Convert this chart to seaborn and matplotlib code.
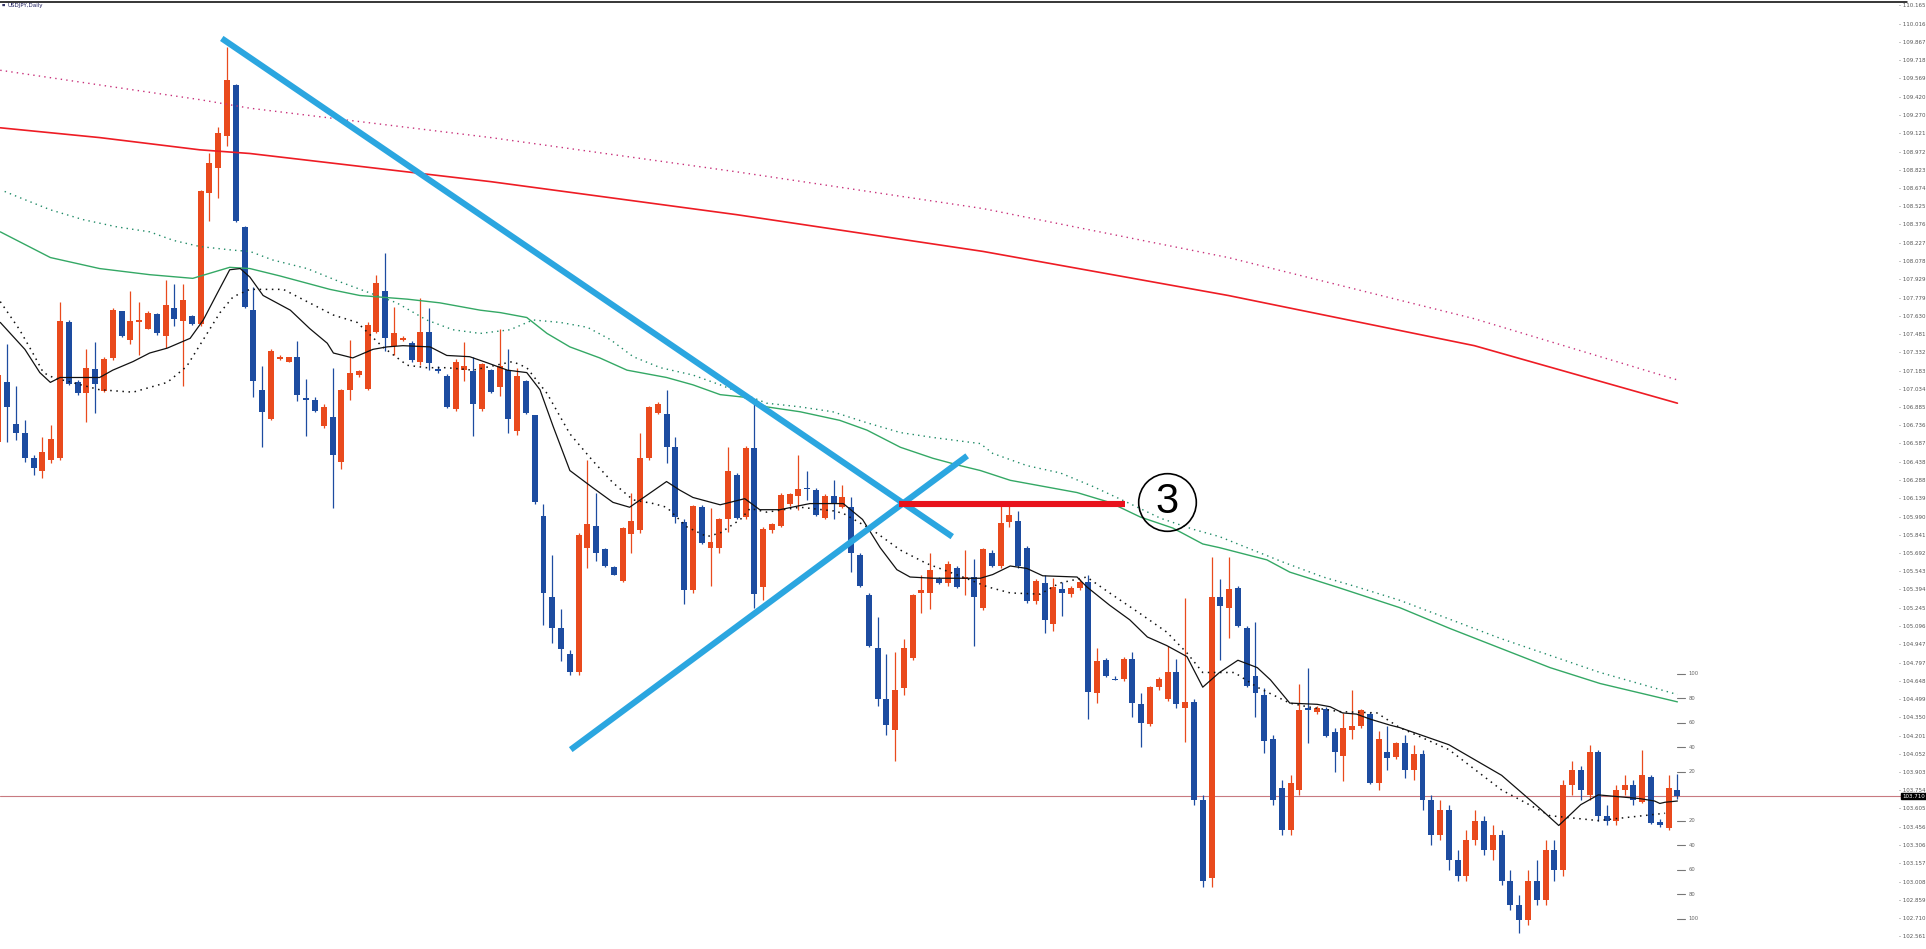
import numpy as np
import pandas as pd
import matplotlib
matplotlib.use('Agg')
import matplotlib.pyplot as plt
import seaborn as sns

# USDJPY 日线, 蜡烛序号 -1 .. 190
opens = [106.60, 107.09, 106.75, 106.68, 106.47, 106.37, 106.46, 106.47, 107.58, 107.09,
         107.00, 107.20, 107.02, 107.29, 107.67, 107.44, 107.58, 107.53, 107.65, 107.47,
         107.70, 107.59, 107.63, 107.57, 108.64, 108.84, 109.10, 109.52, 108.36, 107.68,
         107.03, 106.79, 107.28, 107.26, 107.30, 106.96, 106.95, 106.73, 106.81, 106.44,
         107.03, 107.15, 107.04, 107.50, 107.84, 107.39, 107.44, 107.41, 107.26, 107.50,
         107.20, 107.14, 106.87, 107.19, 107.18, 106.87, 107.19, 107.05, 107.19, 106.69,
         107.10, 106.82, 106.00, 105.34, 105.08, 104.87, 104.72, 105.74, 105.92, 105.73,
         105.58, 105.47, 105.85, 105.88, 106.47, 106.84, 106.83, 106.56, 105.95, 105.39,
         106.07, 105.74, 105.74, 105.97, 106.33, 105.99, 106.55, 105.42, 105.88, 105.92,
         106.10, 106.16, 106.23, 106.21, 105.98, 106.16, 106.07, 106.07, 105.68, 105.35,
         104.92, 104.50, 104.25, 104.59, 104.84, 105.37, 105.37, 105.48, 105.45, 105.57,
         105.48, 105.50, 105.25, 105.70, 105.59, 105.95, 105.96, 105.74, 105.30, 105.45,
         105.12, 105.40, 105.36, 105.41, 105.46, 104.55, 104.82, 104.67, 104.67, 104.83,
         104.46, 104.30, 104.60, 104.50, 104.72, 104.43, 104.48, 103.68, 103.04, 105.34,
         105.25, 105.41, 105.08, 104.69, 104.54, 104.18, 103.78, 103.43, 103.76, 104.43,
         104.40, 104.42, 104.23, 104.04, 104.25, 104.28, 104.38, 103.82, 104.07, 104.03,
         104.14, 103.92, 104.05, 103.68, 103.39, 103.60, 103.19, 103.06, 103.35, 103.51,
         103.27, 103.39, 103.02, 102.82, 102.70, 103.02, 102.86, 103.27, 103.11, 103.80,
         103.92, 103.72, 104.07, 103.55, 103.51, 103.76, 103.80, 103.66, 103.87, 103.50,
         103.45, 103.76]
highs = [107.15, 107.40, 107.06, 106.78, 106.50, 106.64, 106.74, 107.75, 107.60, 107.11,
         107.36, 107.42, 107.30, 107.70, 107.67, 107.84, 107.75, 107.67, 107.66, 107.93,
         107.89, 107.89, 107.64, 108.66, 108.96, 109.18, 109.83, 109.53, 108.37, 107.87,
         107.22, 107.36, 107.31, 107.30, 107.43, 107.12, 106.97, 106.91, 107.21, 107.04,
         107.44, 107.19, 107.58, 107.97, 108.15, 107.71, 107.47, 107.43, 107.78, 107.70,
         107.22, 107.16, 107.28, 107.42, 107.30, 107.25, 107.20, 107.53, 107.36, 107.21,
         107.11, 106.82, 106.10, 105.68, 105.24, 104.90, 105.86, 106.46, 106.19, 105.74,
         105.59, 105.91, 106.19, 106.68, 106.90, 106.93, 107.03, 106.64, 105.97, 106.09,
         106.09, 106.06, 105.98, 106.56, 106.35, 106.57, 106.91, 105.91, 105.94, 106.19,
         106.19, 106.50, 106.37, 106.23, 106.18, 106.29, 106.25, 106.15, 105.70, 105.37,
         105.17, 104.87, 104.89, 104.99, 105.36, 105.52, 105.70, 105.50, 105.63, 105.59,
         105.72, 105.65, 105.74, 105.72, 106.09, 106.09, 106.04, 105.75, 105.48, 105.52,
         105.49, 105.46, 105.43, 105.48, 105.52, 104.92, 104.84, 104.69, 104.85, 104.89,
         104.55, 104.61, 104.68, 104.94, 104.83, 105.33, 104.50, 103.72, 105.66, 105.48,
         105.66, 105.43, 105.10, 105.13, 104.59, 104.21, 103.84, 103.88, 104.63, 104.76,
         104.45, 104.44, 104.27, 104.39, 104.58, 104.42, 104.40, 104.24, 104.28, 104.15,
         104.21, 104.13, 104.09, 103.72, 103.68, 103.64, 103.27, 103.43, 103.60, 103.55,
         103.47, 103.43, 103.11, 102.90, 103.11, 103.19, 103.35, 103.35, 103.84, 104.00,
         103.96, 104.13, 104.09, 103.64, 103.80, 103.88, 103.84, 104.09, 103.88, 103.52,
         103.88, 103.89]
lows = [106.55, 106.60, 106.62, 106.44, 106.33, 106.31, 106.43, 106.46, 107.07, 106.99,
        106.77, 106.84, 107.01, 107.27, 107.46, 107.40, 107.31, 107.53, 107.48, 107.37,
        107.55, 107.06, 107.56, 107.55, 108.41, 108.60, 109.02, 108.40, 107.70, 106.97,
        106.56, 106.78, 107.27, 107.26, 106.94, 106.65, 106.85, 106.72, 106.06, 106.38,
        106.95, 107.13, 107.03, 107.49, 107.35, 107.31, 107.43, 107.26, 107.23, 107.19,
        107.17, 106.88, 106.86, 107.10, 106.65, 106.86, 107.00, 106.98, 106.68, 106.66,
        106.83, 106.10, 105.11, 104.96, 104.81, 104.70, 104.70, 105.57, 105.63, 105.58,
        105.52, 105.46, 105.70, 105.86, 106.46, 106.83, 106.43, 105.94, 105.28, 105.37,
        105.77, 105.43, 105.70, 105.87, 105.97, 105.97, 105.25, 105.31, 105.86, 105.91,
        106.08, 106.05, 106.13, 106.00, 105.97, 105.97, 106.06, 105.54, 105.42, 104.93,
        104.45, 104.21, 104.00, 104.54, 104.82, 105.21, 105.24, 105.44, 105.43, 105.41,
        105.35, 104.94, 105.23, 105.58, 105.57, 105.91, 105.57, 105.29, 105.28, 105.04,
        105.06, 105.18, 105.34, 105.39, 104.34, 104.47, 104.68, 104.66, 104.65, 104.36,
        104.11, 104.28, 104.58, 104.49, 104.43, 104.15, 103.64, 102.97, 102.97, 104.82,
        105.00, 105.09, 104.60, 104.36, 104.06, 103.64, 103.39, 103.39, 103.72, 104.14,
        104.38, 104.19, 103.91, 103.83, 104.18, 104.27, 103.81, 103.76, 103.92, 104.01,
        103.86, 103.84, 103.60, 103.31, 103.35, 103.11, 103.02, 103.02, 103.31, 103.23,
        103.19, 102.98, 102.78, 102.59, 102.66, 102.82, 102.82, 103.02, 103.06, 103.72,
        103.68, 103.68, 103.51, 103.47, 103.47, 103.72, 103.64, 103.65, 103.48, 103.46,
        103.43, 103.69]
closes = [107.15, 106.89, 106.68, 106.47, 106.39, 106.52, 106.63, 107.59, 107.08, 107.00,
          107.21, 107.08, 107.28, 107.68, 107.47, 107.59, 107.60, 107.66, 107.49, 107.72,
          107.61, 107.76, 107.57, 108.65, 108.88, 109.13, 109.56, 108.41, 107.71, 107.10,
          106.85, 107.35, 107.30, 107.30, 106.99, 106.95, 106.86, 106.89, 106.50, 107.03,
          107.17, 107.18, 107.56, 107.90, 107.45, 107.49, 107.45, 107.27, 107.50, 107.25,
          107.18, 106.89, 107.26, 107.22, 106.91, 107.24, 107.01, 107.22, 106.79, 107.14,
          106.84, 106.11, 105.37, 105.08, 104.91, 104.72, 105.84, 105.93, 105.70, 105.59,
          105.52, 105.90, 105.96, 106.47, 106.89, 106.91, 106.56, 105.99, 105.39, 106.08,
          105.78, 105.79, 105.97, 106.37, 105.98, 106.55, 105.36, 105.89, 105.93, 106.17,
          106.18, 106.22, 106.22, 106.01, 106.16, 106.10, 106.15, 105.70, 105.43, 104.94,
          104.50, 104.29, 104.58, 104.92, 105.35, 105.39, 105.56, 105.45, 105.61, 105.42,
          105.50, 105.34, 105.73, 105.59, 105.94, 106.01, 105.59, 105.30, 105.47, 105.15,
          105.42, 105.37, 105.41, 105.46, 104.56, 104.81, 104.69, 104.66, 104.83, 104.47,
          104.31, 104.60, 104.67, 104.72, 104.46, 104.48, 103.68, 103.02, 105.34, 105.26,
          105.40, 105.10, 104.61, 104.55, 104.16, 103.68, 103.43, 103.82, 104.41, 104.41,
          104.43, 104.20, 104.07, 104.27, 104.28, 104.41, 103.82, 104.18, 104.02, 104.14,
          103.92, 104.05, 103.68, 103.39, 103.60, 103.19, 103.06, 103.35, 103.51, 103.27,
          103.39, 103.02, 102.82, 102.70, 103.02, 102.86, 103.27, 103.11, 103.80, 103.92,
          103.76, 104.07, 103.55, 103.51, 103.76, 103.80, 103.68, 103.88, 103.49, 103.47,
          103.78, 103.71]

# 均线 (序号, 价格)
ma_fast = [(-0.8, 107.58), (2.0, 107.36), (3.7, 107.17), (4.9, 107.09), (6.0, 107.13), (10.5, 107.13),
           (12.0, 107.19), (14.3, 107.26), (16.2, 107.33), (18.2, 107.37), (20.8, 107.45), (22.3, 107.60),
           (23.9, 107.82), (25.3, 108.01), (26.5, 108.02), (27.6, 107.95), (29.1, 107.80), (32.2, 107.68),
           (34.4, 107.53), (36.4, 107.41), (37.1, 107.33), (39.3, 107.29), (41.6, 107.36), (43.2, 107.38),
           (45.0, 107.39), (48.1, 107.38), (50.0, 107.31), (52.6, 107.30), (53.8, 107.27), (54.6, 107.25),
           (56.9, 107.19), (59.1, 107.17), (60.6, 107.03), (62.1, 106.73), (64.0, 106.37), (66.6, 106.23),
           (68.9, 106.11), (70.8, 106.07), (72.8, 106.17), (75.0, 106.28), (76.5, 106.21), (78.0, 106.15),
           (81.1, 106.09), (83.9, 106.14), (85.6, 106.05), (87.9, 106.05), (91.3, 106.10), (95.1, 106.10),
           (97.3, 105.97), (99.3, 105.74), (101.2, 105.56), (102.7, 105.50), (105.3, 105.49), (110.7, 105.49),
           (112.1, 105.52), (114.1, 105.59), (116.0, 105.57), (117.8, 105.51), (121.7, 105.50), (122.8, 105.42),
           (125.4, 105.27), (127.7, 105.15), (129.7, 105.01), (131.9, 104.94), (134.2, 104.85), (136.0, 104.60),
           (137.9, 104.72), (140.0, 104.82), (142.2, 104.76), (143.7, 104.66), (145.9, 104.47), (149.0, 104.46),
           (150.5, 104.44), (151.9, 104.39), (153.5, 104.38), (155.0, 104.34), (157.3, 104.29), (158.4, 104.27),
           (164.0, 104.13), (170.0, 103.88), (174.5, 103.60), (176.5, 103.47), (179.0, 103.64), (181.0, 103.72),
           (185.7, 103.69), (187.4, 103.67), (188.0, 103.65), (188.6, 103.66), (190.0, 103.67)]
ma_slow_dot = [(-0.8, 107.75), (1.4, 107.52), (2.9, 107.33), (4.1, 107.17), (5.2, 107.13), (10.5, 107.03),
               (14.3, 107.01), (18.2, 107.09), (20.4, 107.22), (22.3, 107.44), (24.2, 107.66), (25.7, 107.79),
               (27.6, 107.85), (31.4, 107.85), (34.1, 107.75), (37.1, 107.64), (39.8, 107.58), (42.7, 107.38),
               (45.5, 107.23), (47.7, 107.21), (50.0, 107.21), (53.0, 107.19), (57.5, 107.26), (59.1, 107.21),
               (61.4, 107.00), (64.0, 106.67), (66.6, 106.45), (68.9, 106.27), (71.2, 106.13), (73.5, 106.10),
               (75.0, 106.07), (77.3, 105.91), (79.6, 105.83), (81.1, 105.86), (83.4, 105.97), (84.5, 106.06),
               (86.4, 106.03), (90.2, 106.07), (94.0, 106.04), (95.1, 106.02), (98.5, 105.88), (101.6, 105.72),
               (104.6, 105.61), (108.7, 105.50), (111.5, 105.42), (114.1, 105.37), (117.5, 105.36), (119.7, 105.45),
               (122.8, 105.50), (125.4, 105.37), (128.9, 105.20), (131.9, 105.05), (134.2, 104.88), (136.0, 104.72),
               (139.6, 104.72), (142.2, 104.60), (145.9, 104.47), (147.9, 104.44), (151.6, 104.40), (155.8, 104.39),
               (158.4, 104.27), (164.0, 104.09), (170.0, 103.76), (175.5, 103.55), (181.0, 103.51), (188.6, 103.57)]
ma100 = [(-0.8, 108.32), (4.9, 108.11), (10.5, 108.02), (16.2, 107.97), (21.1, 107.94), (25.3, 108.03),
         (27.6, 108.02), (31.0, 107.96), (36.7, 107.85), (40.1, 107.80), (45.5, 107.77), (49.2, 107.74),
         (53.8, 107.68), (56.1, 107.66), (59.1, 107.62), (61.4, 107.49), (64.0, 107.38), (67.4, 107.29),
         (70.5, 107.19), (75.0, 107.13), (78.0, 107.07), (81.1, 106.99), (83.7, 106.97), (86.4, 106.89),
         (90.2, 106.85), (94.7, 106.78), (97.8, 106.70), (101.6, 106.56), (105.3, 106.47), (108.4, 106.41),
         (110.7, 106.37), (114.1, 106.29), (121.7, 106.19), (125.4, 106.11), (128.9, 105.99), (132.6, 105.90),
         (136.0, 105.77), (137.9, 105.74), (143.3, 105.64), (145.9, 105.54), (151.6, 105.41), (158.4, 105.25),
         (164.1, 105.08), (169.8, 104.92), (175.5, 104.76), (181.2, 104.63), (190.0, 104.48)]
ma100_dot = [(-0.3, 108.65), (1.4, 108.60), (4.9, 108.50), (8.6, 108.42), (12.5, 108.36), (16.2, 108.32),
             (18.9, 108.25), (21.9, 108.20), (25.7, 108.17), (27.6, 108.16), (30.2, 108.09), (34.1, 108.02),
             (37.9, 107.91), (40.9, 107.83), (44.3, 107.74), (47.7, 107.60), (50.7, 107.52), (53.8, 107.49),
             (57.2, 107.52), (59.8, 107.60), (62.9, 107.58), (66.0, 107.54), (68.6, 107.44), (71.2, 107.30),
             (74.3, 107.21), (78.0, 107.15), (81.1, 107.07), (86.4, 106.92), (90.2, 106.89), (93.9, 106.85),
             (97.8, 106.76), (101.6, 106.68), (105.3, 106.64), (110.7, 106.59), (112.1, 106.51), (116.0, 106.41),
             (119.8, 106.35), (123.5, 106.24), (127.4, 106.11), (131.2, 105.98), (134.9, 105.89), (137.9, 105.83),
             (145.2, 105.62), (149.7, 105.50), (153.5, 105.42), (158.4, 105.31), (169.8, 105.00), (181.2, 104.72),
             (190.0, 104.54)]
ma200 = [(-0.8, 109.17), (10.5, 109.09), (21.9, 108.99), (27.6, 108.96), (55.0, 108.73), (83.0, 108.46),
         (111.0, 108.16), (138.9, 107.80), (166.9, 107.39), (190.0, 106.92)]
ma200_dot = [(-0.8, 109.64), (10.5, 109.52), (21.9, 109.40), (27.6, 109.33), (55.0, 109.09), (83.0, 108.81),
             (111.0, 108.51), (138.9, 108.11), (166.9, 107.61), (190.0, 107.11)]

# 手绘对象
trend_down = [(24.4, 109.90), (107.5, 105.83)]
trend_up = [(64.1, 104.09), (109.2, 106.49)]
level_line = [(101.4, 106.10), (127.2, 106.10)]
mark_pos = (131.9, 106.11)
mark_text = '3'

price_labels = ['110.165', '110.016', '109.867', '109.718', '109.569', '109.420', '109.270', '109.121',
                '108.972', '108.823', '108.674', '108.525', '108.376', '108.227', '108.078', '107.929',
                '107.779', '107.630', '107.481', '107.332', '107.183', '107.034', '106.885', '106.736',
                '106.587', '106.438', '106.288', '106.139', '105.990', '105.841', '105.692', '105.543',
                '105.394', '105.245', '105.096', '104.947', '104.797', '104.648', '104.499', '104.350',
                '104.201', '104.052', '103.903', '103.754', '103.605', '103.456', '103.306', '103.157',
                '103.008', '102.859', '102.710', '102.561']
ladder_pips = [20, 40, 60, 80, 100]
title = 'USDJPY,Daily'

BULL = '#E94A1D'
BEAR = '#1D4CA0'

sns.set_theme(style='white')
plt.rcParams['font.family'] = ['DejaVu Sans']

fig = plt.figure(figsize=(19.26, 9.49), dpi=100)
ax = fig.add_axes([0, 0, 1, 1])
ax.set_xlim(-0.83, 218.28)
ax.set_ylim(102.461, 110.214)
ax.axis('off')

df = pd.DataFrame({'day': np.arange(-1, len(opens) - 1), 'open': opens, 'high': highs,
                   'low': lows, 'close': closes})
colors = np.where(df['close'] >= df['open'], BULL, BEAR)
ax.vlines(df['day'], df['low'], df['high'], colors=colors, linewidth=0.9, zorder=2)
body_bottom = df[['open', 'close']].min(axis=1)
body_h = (df['close'] - df['open']).abs().clip(lower=0.009)
ax.bar(df['day'], body_h, bottom=body_bottom, width=0.68, color=colors, linewidth=0, zorder=2)


def draw_line(points, color, lw, ls='-'):
    xs, ys = zip(*points)
    sns.lineplot(x=list(xs), y=list(ys), ax=ax, color=color, linewidth=lw, linestyle=ls,
                 sort=False, estimator=None, legend=False, zorder=3)


dots = (0, (1, 3))
draw_line(ma200_dot, '#C8307A', 1.0, dots)
draw_line(ma200, '#EE1C24', 1.2)
draw_line(ma100_dot, '#1F8A66', 1.0, dots)
draw_line(ma100, '#34A865', 1.0)
draw_line(ma_slow_dot, '#111111', 1.1, dots)
draw_line(ma_fast, '#111111', 0.9)

# 当前价
last = closes[-1]
ax.axhline(last, xmin=0, xmax=1903 / 1926, color='#C87A80', linewidth=0.8, zorder=1)

# 趋势线与标记
for seg, col in [(trend_down, '#2BA6E0'), (trend_up, '#2BA6E0'), (level_line, '#E8121C')]:
    xs, ys = zip(*seg)
    ax.plot(xs, ys, color=col, linewidth=4.4, solid_capstyle='butt', zorder=5)
ax.plot([mark_pos[0]], [mark_pos[1]], marker='o', markersize=41.5, markerfacecolor='none',
        markeredgecolor='black', markeredgewidth=1.2, zorder=5)
ax.text(mark_pos[0], mark_pos[1], mark_text, fontsize=30, family='Liberation Sans',
        ha='center', va='center', color='black', zorder=6)

# 右侧价格刻度
ytr = ax.get_yaxis_transform()
for lab in price_labels:
    ax.text(0.9995, float(lab), '- ' + lab, transform=ytr, fontsize=4, color='#555555',
            ha='right', va='center')
ax.text(0.9995, last, f'{last:.3f}', transform=ytr, fontsize=4, color='white', ha='right',
        va='center', bbox=dict(boxstyle='square,pad=0.15', fc='black', ec='black'), zorder=7)

# 点数梯
for p in ladder_pips:
    for sgn in (1, -1):
        yv = last + sgn * p / 100
        ax.text(190 + 1.3, yv, str(p), fontsize=3.8, color='#666666', ha='left', va='center')
        ax.plot([190.0, 190.9], [yv, yv], color='#777777', linewidth=0.8)

# 顶部边框和标题
ax.plot([0, 1907 / 1926], [1 - 1.5 / 949, 1 - 1.5 / 949], transform=ax.transAxes,
        color='black', linewidth=1.1, clip_on=False)
ax.text(2 / 1926, 1 - 5 / 949, '■', transform=ax.transAxes, fontsize=2.5, color='#333366',
        ha='left', va='center')
ax.text(7 / 1926, 1 - 5 / 949, title, transform=ax.transAxes, fontsize=4, color='#1A1A5A',
        ha='left', va='center')

fig.savefig('out.png', dpi=100)
